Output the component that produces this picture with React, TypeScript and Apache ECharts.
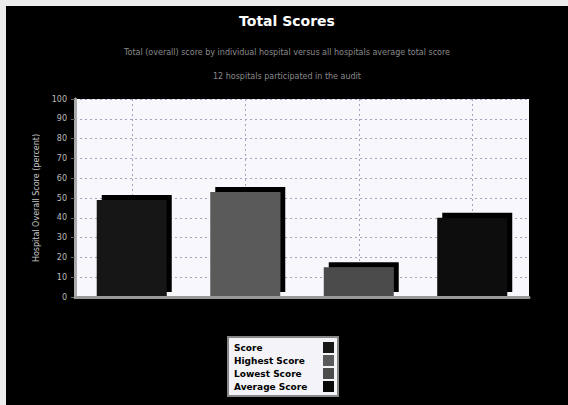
import React, { useEffect, useRef } from "react";
import * as echarts from "echarts";

const categories = ["Score", "Highest Score", "Lowest Score", "Average Score"];
const values = [49, 53, 15, 40];
const colors = ["#161616", "#5a5a5a", "#4c4c4c", "#080808"];
const titleText = "Total Scores";
const subLine1 = "Total (overall) score by individual hospital versus all hospitals average total score";
const subLine2 = "12 hospitals participated in the audit";
const yAxisName = "Hospital Overall Score (percent)";

export default function App() {
  const ref = useRef<HTMLDivElement>(null);
  useEffect(() => {
    if (!ref.current) return;
    const chart = echarts.init(ref.current, null, { renderer: "svg" });
    const halfSteps = Array.from({ length: categories.length * 2 + 1 }, (_, k) => String(k));
    const series: any[] = categories.map((name, i) => ({
      name,
      type: "bar",
      stack: "all",
      barWidth: 70,
      xAxisIndex: 0,
      data: categories.map((_, j) => (j === i ? values[i] : "-")),
      itemStyle: {
        color: colors[i],
        shadowColor: "#000",
        shadowOffsetX: 5,
        shadowOffsetY: -5,
        shadowBlur: 0,
      },
    }));
    chart.setOption({
      animation: false,
      backgroundColor: "#000",
      title: [
        {
          text: titleText,
          left: "center",
          top: 3,
          textStyle: { color: "#fff", fontSize: 14, fontWeight: "bold", fontFamily: "DejaVu Sans" },
        },
        {
          text: subLine1,
          left: "center",
          top: 37,
          textStyle: { color: "#8a8a8a", fontSize: 8, fontWeight: "normal", fontFamily: "DejaVu Sans" },
        },
        {
          text: subLine2,
          left: "center",
          top: 61,
          textStyle: { color: "#8a8a8a", fontSize: 8, fontWeight: "normal", fontFamily: "DejaVu Sans" },
        },
      ],
      legend: {
        data: categories,
        orient: "vertical",
        left: 222,
        top: 331,
        align: "right",
        backgroundColor: "#f4f4f8",
        borderColor: "#888",
        borderWidth: 2,
        borderRadius: 0,
        padding: [5, 4, 4, 6],
        itemWidth: 11,
        itemHeight: 11,
        itemGap: 2,
        icon: "rect",
        formatter: (name: string) => `{n|${name}}`,
        textStyle: {
          color: "#000",
          fontSize: 9,
          fontWeight: "bold",
          fontFamily: "DejaVu Sans",
          rich: {
            n: {
              width: 84,
              align: "left",
              color: "#000",
              fontSize: 9,
              fontWeight: "bold",
              fontFamily: "DejaVu Sans",
            },
          },
        },
      },
      grid: {
        left: 69,
        top: 93,
        right: 39,
        bottom: 108,
        show: true,
        backgroundColor: "#f7f7fc",
        borderWidth: 0,
      },
      xAxis: [
        {
          type: "category",
          data: categories,
          axisLabel: { show: false },
          axisTick: { show: false },
          axisLine: { show: true, lineStyle: { color: "#999", width: 3 } },
          splitLine: { show: false },
          z: 5,
        },
        {
          type: "category",
          data: halfSteps,
          boundaryGap: false,
          position: "bottom",
          axisLabel: { show: false },
          axisTick: { show: false },
          axisLine: { show: false },
          splitLine: {
            show: true,
            interval: (index: number) => index % 2 === 1,
            lineStyle: { color: "#a0a4c0", type: [2, 3], width: 1 },
          },
        },
      ],
      yAxis: {
        type: "value",
        min: 0,
        max: 100,
        interval: 10,
        name: yAxisName,
        nameLocation: "middle",
        nameGap: 34,
        nameTextStyle: { color: "#c8c8c8", fontSize: 8, fontFamily: "DejaVu Sans" },
        axisLabel: { color: "#bbb", fontSize: 8, margin: 8, fontFamily: "DejaVu Sans" },
        axisLine: { show: true, lineStyle: { color: "#aaa", width: 3 } },
        axisTick: { show: true, length: 4, lineStyle: { color: "#666" } },
        splitLine: { show: true, lineStyle: { color: "#a0a4c0", type: [2, 3], width: 1 } },
      },
      series,
    });
    return () => chart.dispose();
  }, []);
  return (
    <div style={{ position: "fixed", left: 0, top: 0, width: 568, height: 405, background: "#ececec" }}>
      <div ref={ref} style={{ position: "absolute", left: 6, top: 6, width: 562, height: 399 }} />
    </div>
  );
}
